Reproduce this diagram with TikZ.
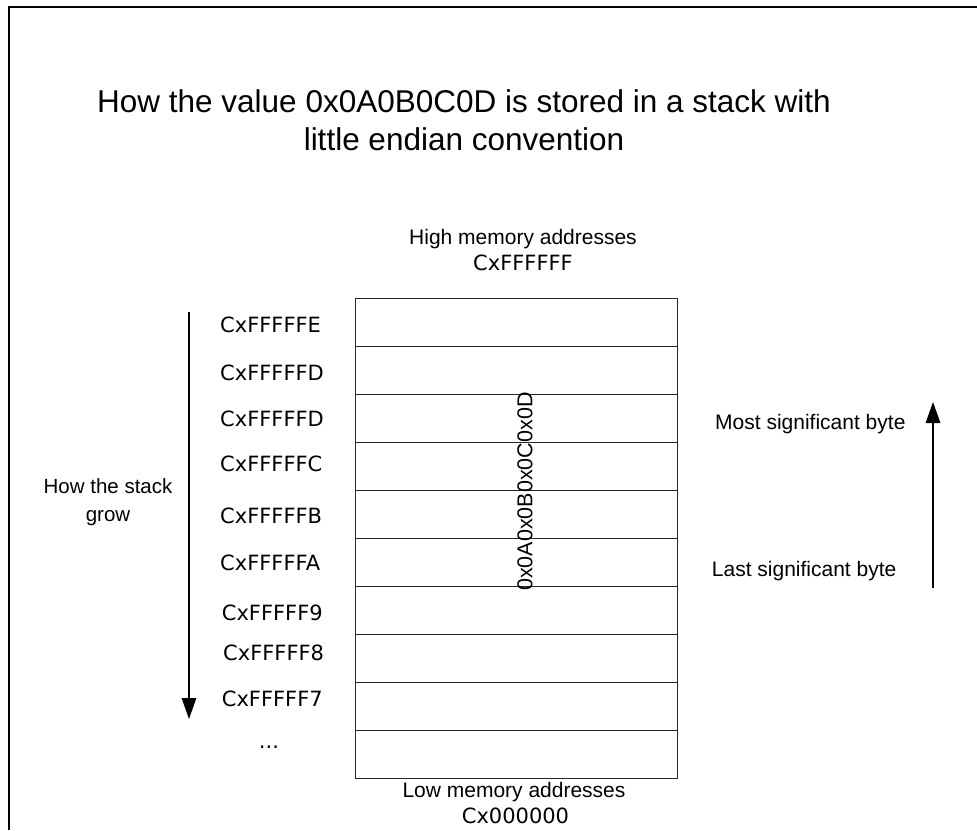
\documentclass[tikz,border=0pt]{standalone}
\usepackage{fontspec}
\setmainfont{Liberation Sans}
\newfontfamily\hexfont{DejaVu Sans}
\usetikzlibrary{arrows.meta}
\tikzset{
  cell/.style={draw=black!85, line width=1pt, minimum width=322pt, minimum height=48pt, inner sep=0pt},
  hexlbl/.style={anchor=base west, inner sep=0pt, font=\hexfont\fontsize{21}{25}\selectfont},
  txt/.style={inner sep=0pt, font=\fontsize{21}{25}\selectfont},
  bigarrow/.style={line width=1.4pt, -{Triangle[width=14.5pt, length=21pt]}},
  frameline/.style={line width=2pt}
}
\begin{document}
\begin{tikzpicture}[x=1pt, y=-1pt]
\useasboundingbox (0,0) rectangle (977,830);
% frame
\draw[frameline] (8.5,830) -- (8.5,7) -- (977,7);
% title
\node[inner sep=0pt, align=center, font=\fontsize{31.5}{38}\selectfont] (title) at (464,120.5)
  {How the value 0x0A0B0C0D is stored in a stack with\\little endian convention};
% high / low memory labels
\node[txt, anchor=base] (hi) at (523,244) {High memory addresses};
\node[hexlbl, anchor=base] (hiaddr) at (523,270) {CxFFFFFF};
\node[txt, anchor=base] (lo) at (514,797) {Low memory addresses};
\node[hexlbl, anchor=base] (loaddr) at (515.5,823) {Cx000000};
% stack cells
\foreach \i in {0,...,9} {
  \node[cell] (c\i) at (516,{322+48*\i}) {};
}
% value written vertically
\node[inner sep=0pt, rotate=90, font=\fontsize{21.5}{25}\selectfont] (val) at (525,491.5) {0x0A0x0B0x0C0x0D};
% address labels
\node[hexlbl] (a1) at (220,332.7) {CxFFFFFE};
\node[hexlbl] (a2) at (220,380) {CxFFFFFD};
\node[hexlbl] (a3) at (220,426.7) {CxFFFFFD};
\node[hexlbl] (a4) at (220,471.7) {CxFFFFFC};
\node[hexlbl] (a5) at (220,523.3) {CxFFFFFB};
\node[hexlbl] (a6) at (220,570) {CxFFFFFA};
\node[hexlbl] (a7) at (221.7,620) {CxFFFFF9};
\node[hexlbl] (a8) at (223,660) {CxFFFFF8};
\node[hexlbl] (a9) at (221.7,706.7) {CxFFFFF7};
\node[hexlbl, anchor=base] (dots) at (269,748) {...};
% stack growth
\node[inner sep=0pt, align=center, font=\fontsize{20.5}{28.7}\selectfont] (grow) at (108,502.2) {How the stack\\grow};
\coordinate (gtop) at (189,312);
\coordinate (gbot) at (189,719);
\draw[bigarrow] (gtop) -- (gbot);
% significance
\node[txt, anchor=base west] (msb) at (715,429.3) {Most significant byte};
\node[txt, anchor=base west] (lsb) at (711.7,576.7) {Last significant byte};
\coordinate (sbot) at (933,588);
\coordinate (stop) at (933,402);
\draw[bigarrow] (sbot) -- (stop);
\end{tikzpicture}
\end{document}
